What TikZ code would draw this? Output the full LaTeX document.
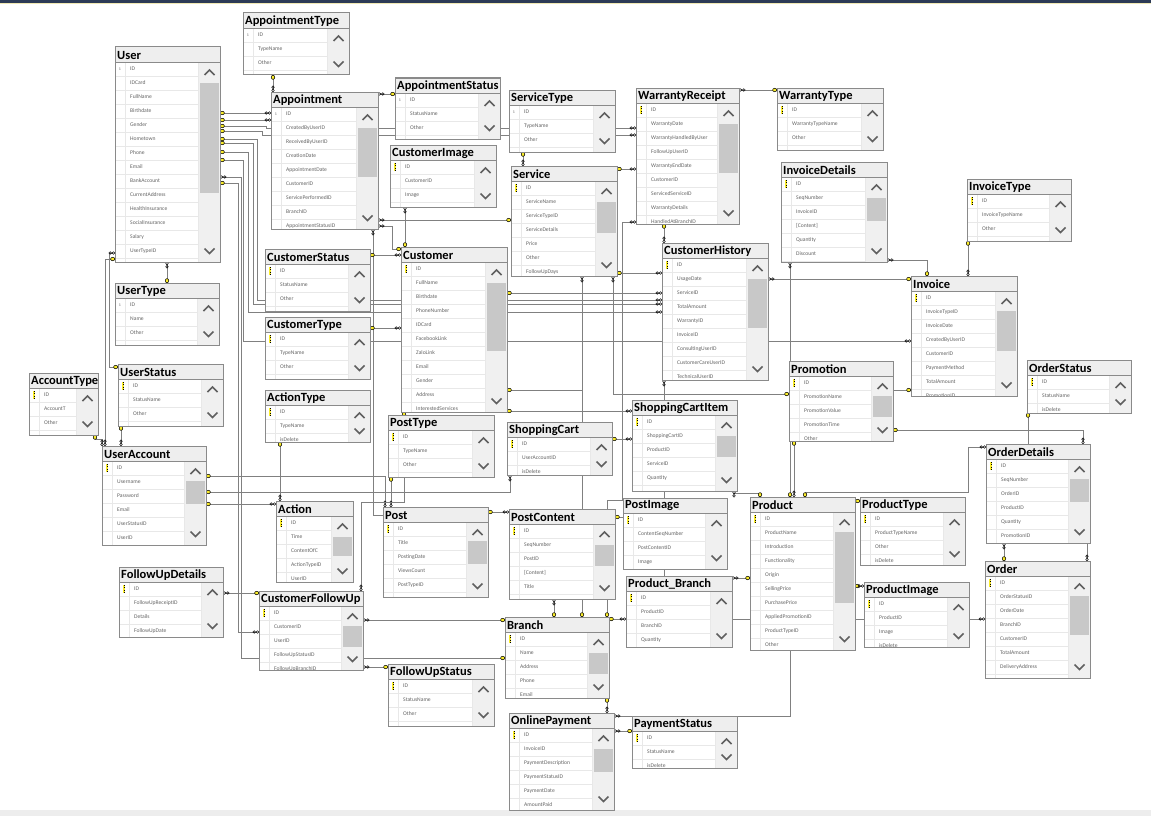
\documentclass[tikz,border=0pt]{standalone}
\usepackage{fontspec}
\setmainfont{Carlito}
\usetikzlibrary{arrows.meta,calc}
\definecolor{keyy}{RGB}{250,236,40}
\definecolor{lnc}{RGB}{128,128,128}
\definecolor{bordc}{RGB}{138,138,138}
\definecolor{titbg}{RGB}{238,238,238}
\definecolor{sbbg}{RGB}{240,240,240}
\definecolor{thumbc}{RGB}{200,200,200}
\definecolor{rowln}{RGB}{232,232,232}
\definecolor{txtc}{RGB}{100,100,100}
\definecolor{chevc}{RGB}{96,96,96}
\definecolor{navy}{RGB}{44,58,86}
\definecolor{paley}{RGB}{240,232,180}
\pgfdeclarelayer{back}
\pgfdeclarelayer{lines}
\pgfsetlayers{back,lines,main}
\tikzset{
  kk/.tip={Circle[length=4.6pt,width=4pt,color=black,fill=keyy,line width=0.5pt]},
  mm/.tip={Circle[open,length=3.2pt,width=3pt,color=black,line width=0.5pt] Circle[open,length=3.2pt,width=3pt,color=black,line width=0.5pt]},
  conn/.style={draw=lnc,line width=0.9pt},
  rowtxt/.style={anchor=west,inner sep=0pt,font=\fontsize{5.6}{6}\selectfont,text=txtc},
  tittxt/.style={anchor=west,inner sep=0pt,font=\bfseries\fontsize{12.5}{13}\selectfont,text=black},
  chev/.style={draw=chevc,line width=1.7pt},
}
% one table: name, title, x, y, width, height, marker (k = key, n = one), rows
\newcommand\dbtab[8]{%
  \node[inner sep=0pt,outer sep=0pt,minimum width=#5pt,minimum height=#6pt,anchor=north west] (#1) at (#3,#4) {};
  \begin{scope}
    \clip (#3,#4) rectangle ++(#5,#6);
    \fill[white] (#3,#4) rectangle ++(#5,#6);
    \fill[sbbg] (#3+#5-21,#4+15) rectangle (#3+#5,#4+#6);
    \foreach \r [count=\i from 0] in {#8} {
      \draw[rowln] (#3,#4+29+14*\i) -- (#3+#5-22,#4+29+14*\i);
      \node[rowtxt] at (#3+15,#4+22+14*\i) {\r};
    }
    \draw[rowln] (#3+10,#4+15) -- (#3+10,#4+#6);
    \draw[rowln] (#3+#5-22,#4+15) -- (#3+#5-22,#4+#6);
    \draw[chev] (#3+#5-15.5,#4+28) -- (#3+#5-10.5,#4+23) -- (#3+#5-5.5,#4+28);
    \draw[chev] (#3+#5-15.5,#4+#6-13.5) -- (#3+#5-10.5,#4+#6-8.5) -- (#3+#5-5.5,#4+#6-13.5);
    \fill[titbg] (#3,#4) rectangle ++(#5,15);
    \draw[bordc] (#3,#4+15) -- ++(#5,0);
    \node[tittxt] at (#3+2,#4+8) {#2};
    \ifx k#7
      \fill[keyy] (#3+4.3,#4+18) rectangle (#3+5.7,#4+26);
      \draw[black,line width=0.5pt,dash pattern=on 0.8pt off 1.6pt] (#3+5,#4+18) -- (#3+5,#4+26);
    \else
      \node[inner sep=0pt,font=\fontsize{4}{4}\selectfont,text=txtc] at (#3+5,#4+22) {1};
    \fi
  \end{scope}
  \draw[bordc,line width=1pt] (#3,#4) rectangle ++(#5,#6);
}
\newcommand\thumb[3]{\fill[thumbc] ($(#1.east|-0,#2)+(-20,0)$) rectangle ($(#1.east|-0,#3)+(-1,0)$);}

\begin{document}
\begin{tikzpicture}[x=1pt,y=-1pt]
\useasboundingbox (0,0) rectangle (1151,816);
\begin{pgfonlayer}{back}
  \fill[white] (0,0) rectangle (1151,816);
  \fill[navy] (0,0) rectangle (1151,3);
  \fill[paley] (0,3) rectangle (1151,4);
  \fill[black!7] (0,810) rectangle (1151,816);
\end{pgfonlayer}

% ---------- tables ----------
\dbtab{atype}{AppointmentType}{243}{13}{106}{62}{n}{ID,TypeName,Other}
\dbtab{user}{User}{115}{47}{105}{215}{n}{ID,IDCard,FullName,Birthdate,Gender,Hometown,Phone,Email,BankAccount,CurrentAddress,HealthInsurance,SocialInsurance,Salary,UserTypeID}
\thumb{user}{83}{193}
\dbtab{appt}{Appointment}{271}{92}{107}{137}{n}{ID,CreatedByUserID,ReceivedByUserID,CreationDate,AppointmentDate,CustomerID,ServicePerformedID,BranchID,AppointmentStatusID}
\thumb{appt}{128}{177}
\dbtab{astatus}{AppointmentStatus}{395}{78}{105}{61}{n}{ID,StatusName,Other}
\dbtab{stype}{ServiceType}{509}{90}{106}{62}{n}{ID,TypeName,Other}
\dbtab{cimage}{CustomerImage}{390}{145}{106}{62}{k}{ID,CustomerID,Image}
\dbtab{service}{Service}{511}{166}{106}{110}{k}{ID,ServiceName,ServiceTypeID,ServiceDetails,Price,Other,FollowUpDays}
\thumb{service}{202}{233}
\dbtab{wreceipt}{WarrantyReceipt}{636}{88}{103}{136}{k}{ID,WarrantyDate,WarrantyHandledByUser,FollowUpUserID,WarrantyEndDate,CustomerID,ServicedServiceID,WarrantyDetails,HandledAtBranchID}
\thumb{wreceipt}{124}{173}
\dbtab{wtype}{WarrantyType}{777}{88}{106}{62}{k}{ID,WarrantyTypeName,Other}
\dbtab{idetails}{InvoiceDetails}{781}{162}{106}{100}{k}{ID,SeqNumber,InvoiceID,[Content],Quantity,Discount}
\thumb{idetails}{198}{221}
\dbtab{itype}{InvoiceType}{967}{179}{104}{62}{k}{ID,InvoiceTypeName,Other}
\dbtab{chistory}{CustomerHistory}{662}{243}{106}{137}{k}{ID,UsageDate,ServiceID,TotalAmount,WarrantyID,InvoiceID,ConsultingUserID,CustomerCareUserID,TechnicalUserID}
\thumb{chistory}{279}{328}
\dbtab{cstatus}{CustomerStatus}{265}{249}{105}{62}{k}{ID,StatusName,Other}
\dbtab{customer}{Customer}{401}{247}{106}{165}{k}{ID,FullName,Birthdate,PhoneNumber,IDCard,FacebookLink,ZaloLink,Email,Gender,Address,InterestedServices}
\thumb{customer}{283}{351}
\dbtab{utype}{UserType}{115}{283}{104}{62}{n}{ID,Name,Other}
\dbtab{ctype}{CustomerType}{265}{317}{105}{62}{k}{ID,TypeName,Other}
\dbtab{ustatus}{UserStatus}{118}{364}{105}{62}{k}{ID,StatusName,Other}
\dbtab{acctype}{AccountType}{29}{373}{69}{62}{k}{ID,AccountT,Other}
\dbtab{actype}{ActionType}{265}{390}{105}{52}{k}{ID,TypeName,isDelete}
\dbtab{ptype}{PostType}{388}{415}{106}{62}{k}{ID,TypeName,Other}
\dbtab{cart}{ShoppingCart}{507}{422}{105}{53}{k}{ID,UserAccountID,isDelete}
\dbtab{cartitem}{ShoppingCartItem}{632}{400}{105}{91}{k}{ID,ShoppingCartID,ProductID,ServiceID,Quantity}
\thumb{cartitem}{436}{457}
\dbtab{promo}{Promotion}{789}{361}{104}{80}{k}{ID,PromotionName,PromotionValue,PromotionTime,Other}
\thumb{promo}{396}{417}
\dbtab{invoice}{Invoice}{911}{276}{106}{120}{k}{ID,InvoiceTypeID,InvoiceDate,CreatedByUserID,CustomerID,PaymentMethod,TotalAmount,PromotionID}
\thumb{invoice}{311}{351}
\dbtab{ostatus}{OrderStatus}{1027}{360}{104}{53}{k}{ID,StatusName,isDelete}
\dbtab{odetails}{OrderDetails}{986}{444}{104}{99}{k}{ID,SeqNumber,OrderID,ProductID,Quantity,PromotionID}
\thumb{odetails}{479}{502}
\dbtab{uacc}{UserAccount}{102}{446}{104}{99}{k}{ID,Username,Password,Email,UserStatusID,UserID}
\thumb{uacc}{481}{504}
\dbtab{action}{Action}{276}{501}{77}{81}{k}{ID,Time,ContentOfC,ActionTypeID,UserID}
\thumb{action}{537}{556}
\dbtab{post}{Post}{383}{507}{105}{90}{k}{ID,Title,PostingDate,ViewsCount,PostTypeID}
\thumb{post}{541}{564}
\dbtab{pcontent}{PostContent}{509}{509}{106}{90}{k}{ID,SeqNumber,PostID,[Content],Title}
\thumb{pcontent}{545}{566}
\dbtab{pimage}{PostImage}{623}{498}{104}{71}{k}{ID,ContentSeqNumber,PostContentID,Image}
\dbtab{product}{Product}{750}{497}{105}{153}{k}{ID,ProductName,Introduction,Functionality,Origin,SellingPrice,PurchasePrice,AppliedPromotionID,ProductTypeID,Other}
\thumb{product}{532}{603}
\dbtab{ptypeb}{ProductType}{860}{497}{105}{68}{k}{ID,ProductTypeName,Other,isDelete}
\dbtab{pimg}{ProductImage}{864}{582}{105}{65}{k}{ID,ProductID,Image,isDelete}
\dbtab{order}{Order}{985}{561}{105}{117}{k}{ID,OrderStatusID,OrderDate,BranchID,CustomerID,TotalAmount,DeliveryAddress}
\thumb{order}{596}{635}
\dbtab{pbranch}{Product\_Branch}{626}{576}{106}{71}{k}{ID,ProductID,BranchID,Quantity}
\dbtab{fudetails}{FollowUpDetails}{119}{567}{104}{70}{k}{ID,FollowUpReceiptID,Details,FollowUpDate}
\dbtab{cfollow}{CustomerFollowUp}{259}{591}{104}{79}{k}{ID,CustomerID,UserID,FollowUpStatusID,FollowUpBranchID}
\thumb{cfollow}{626}{647}
\dbtab{fustatus}{FollowUpStatus}{388}{664}{106}{62}{k}{ID,StatusName,Other}
\dbtab{branch}{Branch}{505}{617}{104}{81}{k}{ID,Name,Address,Phone,Email}
\thumb{branch}{653}{674}
\dbtab{opay}{OnlinePayment}{509}{713}{105}{97}{k}{ID,InvoiceID,PaymentDescription,PaymentStatusID,PaymentDate,AmountPaid}
\thumb{opay}{749}{772}
\dbtab{pstatus}{PaymentStatus}{632}{716}{105}{52}{k}{ID,StatusName,isDelete}

% ---------- relationships ----------
\begin{pgfonlayer}{lines}
% User
\draw[conn,kk-mm] (user.east|-0,113) -- (appt.west|-0,113);
\draw[conn,kk-mm] (user.east|-0,120) -- (appt.west|-0,120);
\draw[conn,kk-mm] (user.east|-0,126) -- (266,126) -- (266,128) -- (wreceipt.west|-0,128);
\draw[conn,kk-mm] (user.east|-0,131) -- (262,131) -- (262,135) -- (wreceipt.west|-0,135);
\draw[conn,kk-mm] (user.east|-0,139) -- (257,139) -- (257,300) -- (chistory.west|-0,300);
\draw[conn,kk-mm] (user.east|-0,143) -- (253,143) -- (253,304) -- (chistory.west|-0,304);
\draw[conn,kk-mm] (user.east|-0,152) -- (248,152) -- (248,312) -- (chistory.west|-0,312);
\draw[conn,kk-mm] (user.east|-0,160) -- (243,160) -- (243,341) -- (invoice.west|-0,341);
\draw[conn,mm-kk] (user.east|-0,177) -- (241,177) -- (241,658) -- (branch.west|-0,658);
\draw[conn,kk-mm] (user.east|-0,183) -- (238,183) -- (238,632) -- (cfollow.west|-0,632);
\draw[conn,mm-kk] (user.south-|167,0) -- (utype.north-|167,0);
\draw[conn,kk-mm] (user.west|-0,259) -- (105,259) -- (uacc.north-|105,0);
\draw[conn,mm-kk] (user.west|-0,253) -- (109,253) -- (109,367) -- (ustatus.west|-0,367);
\draw[conn,kk-mm] (ustatus.south-|121,0) -- (uacc.north-|121,0);
\draw[conn,kk-mm] (acctype.south-|95,0) -- (95,439) -- (102,439) -- (uacc.north-|102,0);
% UserAccount
\draw[conn,kk-mm] (uacc.east|-0,476) -- (385,476) -- (post.north-|385,0);
\draw[conn,kk-mm] (uacc.east|-0,492) -- (510,492) -- (cart.south-|510,0);
\draw[conn,kk-mm] (uacc.east|-0,504) -- (action.west|-0,504);
\draw[conn,kk-mm] (actype.south-|280,0) -- (action.north-|280,0);
\draw[conn,kk-mm] (ptype.south-|391,0) -- (post.north-|391,0);
% Appointment
\draw[conn,kk-mm] (atype.south-|273,0) -- (appt.north-|273,0);
\draw[conn,mm-kk] (appt.east|-0,94) -- (astatus.west|-0,94);
\draw[conn,mm-kk] (appt.east|-0,220) -- (service.west|-0,220);
\draw[conn,mm-kk] (appt.east|-0,226) -- (392,226) -- (392,249) -- (customer.west|-0,249);
\draw[conn,mm-] (appt.south-|373,0) -- (373,515) -- (post.west|-0,515);
% Customer
\draw[conn,kk-mm] (cstatus.east|-0,255) -- (customer.west|-0,255);
\draw[conn,kk-mm] (ctype.east|-0,328) -- (customer.west|-0,328);
\draw[conn,mm-kk] (cimage.south-|405,0) -- (customer.north-|405,0);
\draw[conn,kk-mm] (customer.south-|404,0) -- (404,502) -- (361,502) -- (cfollow.north-|361,0);
\draw[conn,kk-mm] (customer.east|-0,411) -- (cartitem.west|-0,411);
\draw[conn,kk-mm] (customer.east|-0,293) -- (chistory.west|-0,293);
\draw[conn,kk-] (customer.east|-0,390) -- (582,390);
% Service
\draw[conn,kk-mm] (stype.south-|523,0) -- (service.north-|523,0);
\draw[conn,kk-mm] (service.east|-0,169) -- (wreceipt.west|-0,169);
\draw[conn,kk-mm] (service.east|-0,273) -- (chistory.west|-0,273);
\draw[conn,mm-kk] (service.south-|613,0) -- (613,394) -- (promo.west|-0,394);
\draw[conn,mm-kk] (service.south-|582,0) -- (branch.north-|582,0);
\draw[conn,mm-kk] (wreceipt.west|-0,222) -- (622,222) -- (622,500) -- (607,500) -- (branch.north-|607,0);
% Warranty
\draw[conn,mm-kk] (wreceipt.east|-0,90) -- (wtype.west|-0,90);
\draw[conn,kk-mm] (wreceipt.south-|664,0) -- (chistory.north-|664,0);
% Invoice
\draw[conn,mm-kk] (chistory.east|-0,279) -- (invoice.west|-0,279);
\draw[conn,mm-kk] (idetails.east|-0,260) -- (927,260) -- (invoice.north-|927,0);
\draw[conn,kk-mm] (itype.south-|968,0) -- (invoice.north-|968,0);
\draw[conn,-kk] (promo.east|-0,390) -- (invoice.west|-0,390);
% cart, posts
\draw[conn,kk-mm] (cart.east|-0,439) -- (cartitem.west|-0,439);
\draw[conn,mm-] (chistory.south-|664,0) -- (pbranch.north-|664,0);
\draw[conn,kk-mm] (post.east|-0,512) -- (pcontent.west|-0,512);
\draw[conn,kk-] (pcontent.east|-0,517) -- (pimage.west|-0,517);
\draw[conn,mm-kk] (pcontent.south-|554,0) -- (branch.north-|554,0);
% Product
\draw[conn,mm-kk] (cartitem.south-|734,0) -- (734,493) -- (760,493) -- (product.north-|760,0);
\draw[conn,mm-kk] (idetails.south-|790,0) -- (product.north-|790,0);
\draw[conn,kk-mm] (promo.south-|794,0) -- (product.north-|794,0);
\draw[conn,kk-mm] (product.north-|805,0) -- (805,492) -- (968,492) -- (968,447) -- (odetails.west|-0,447);
\draw[conn,-kk] (product.east|-0,501) -- (ptypeb.west|-0,501);
\draw[conn,kk-mm] (product.east|-0,586) -- (pimg.west|-0,586);
\draw[conn,mm-kk] (pbranch.east|-0,578) -- (product.west|-0,578);
\draw[conn,-mm] (pbranch.east|-0,619) -- (order.west|-0,619);
\draw[conn,kk-mm] (branch.east|-0,619) -- (pbranch.west|-0,619);
% Orders
\draw[conn,kk-mm] (promo.east|-0,430) -- (1083,430) -- (odetails.north-|1083,0);
\draw[conn,kk-mm] (ostatus.south-|1028,0) -- (1028,500) -- (1087,500) -- (order.north-|1087,0);
\draw[conn,mm-kk] (odetails.south-|1004,0) -- (order.north-|1004,0);
% Follow-up
\draw[conn,mm-kk] (fudetails.east|-0,593) -- (cfollow.west|-0,593);
\draw[conn,mm-kk] (cfollow.east|-0,620) -- (branch.west|-0,620);
\draw[conn,mm-kk] (cfollow.east|-0,667) -- (fustatus.west|-0,667);
% Payments
\draw[conn,kk-mm] (branch.south-|607,0) -- (opay.north-|607,0);
\draw[conn,mm-] (opay.east|-0,716) -- (790,716) -- (product.south-|790,0);
\draw[conn,mm-kk] (opay.east|-0,731) -- (pstatus.west|-0,731);
\end{pgfonlayer}
\end{tikzpicture}
\end{document}
